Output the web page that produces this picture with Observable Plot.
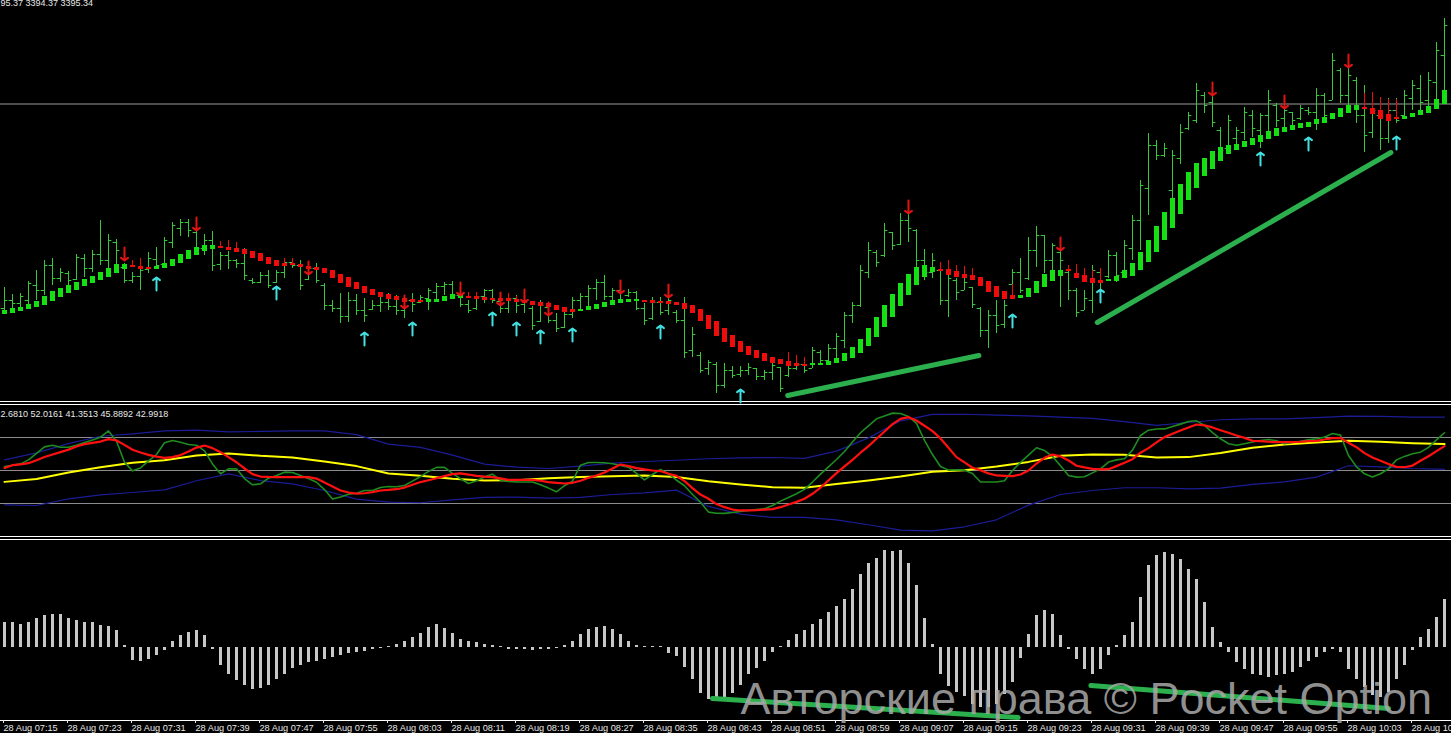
<!DOCTYPE html>
<html><head><meta charset="utf-8">
<script src="https://cdn.jsdelivr.net/npm/d3@7"></script>
<script src="https://cdn.jsdelivr.net/npm/@observablehq/plot@0.6"></script>
<style>
html,body{margin:0;padding:0;background:#000;overflow:hidden;}
#wrap{width:1451px;height:733px;background:#000;overflow:hidden;}
.sep{height:2px;border-top:1px solid #fff;border-bottom:1px solid #fff;background:#000;}
svg{display:block;}
</style></head>
<body><div id="wrap"></div>
<script>
// ---------- DATA (price in chart points) ----------
const barHigh = [113,106,107,119,130,140,142,132,129,146,146,150,180,166,161,137,128,142,148,153,163,178,181,181,170,166,169,148,149,141,152,122,128,130,130,142,142,140,138,137,117,100,107,108,106,102,100,105,107,105,103,107,105,112,117,118,119,108,100,107,111,111,100,105,105,103,94,100,93,87,90,103,107,115,121,125,112,113,111,109,97,103,103,103,90,103,73,48,40,38,37,34,34,37,32,30,38,33,35,38,43,53,50,56,67,88,98,135,158,150,177,168,187,187,171,151,147,130,130,122,123,113,93,90,100,100,131,142,163,174,165,157,149,130,112,110,135,128,150,148,160,185,220,267,260,257,250,276,288,317,308,306,273,285,273,293,290,287,310,297,292,288,295,293,312,307,347,332,333,323,315,308,303,302,302,310,320,325,328,358,382];
const barLow = [90,92,93,93,100,105,115,118,113,120,123,128,135,132,136,117,117,110,127,132,135,152,164,163,147,145,129,130,131,132,120,116,117,112,117,122,132,110,120,117,90,88,77,78,85,78,90,88,90,85,82,88,97,90,100,105,102,93,87,90,97,97,87,87,87,87,70,78,77,68,72,82,90,93,100,100,100,97,103,90,75,80,85,85,77,42,43,27,25,7,12,22,23,25,20,20,20,8,23,30,27,32,35,37,42,52,77,93,122,133,143,150,155,158,132,120,122,95,83,100,110,92,63,52,67,72,113,107,120,133,127,127,93,100,83,90,87,107,122,118,125,140,150,185,240,243,200,236,270,277,287,273,243,250,255,260,263,252,267,273,273,275,280,285,270,277,300,297,287,277,248,262,250,257,277,283,290,290,293,300,310];
const barOpen = [92,100,97,100,115,110,135,122,127,121,142,132,146,140,158,133,120,124,131,141,136,158,172,178,168,152,160,136,145,140,137,120,118,125,118,128,138,135,121,132,115,95,92,84,100,90,91,95,98,94,90,100,98,102,108,114,116,105,96,92,104,110,99,92,102,96,92,79,93,80,73,86,100,104,112,118,104,110,105,108,92,82,98,90,88,80,50,45,32,36,15,30,26,30,32,24,28,33,25,32,36,32,48,40,52,60,85,95,128,148,145,168,156,180,170,140,128,130,100,120,110,113,92,70,85,76,116,128,122,150,165,140,148,128,110,90,100,128,124,145,128,152,180,212,255,245,210,242,272,280,305,298,270,252,262,268,285,270,285,295,282,288,282,290,288,305,300,330,305,320,285,268,285,262,290,285,302,312,300,318,345];
const barClose = [100,97,104,117,110,135,122,128,120,143,132,146,140,160,150,120,124,130,142,135,160,175,178,170,152,160,135,145,140,137,125,118,125,115,128,138,135,115,132,120,95,92,84,100,90,85,95,98,94,90,100,96,103,110,114,116,105,96,90,104,110,100,92,102,95,100,75,95,80,72,86,100,104,112,118,104,110,100,108,92,80,98,88,100,80,48,66,30,38,15,30,25,30,33,24,28,35,12,32,36,30,50,40,52,64,85,95,130,150,138,170,155,180,172,140,128,140,100,122,108,118,96,70,85,75,95,128,110,150,165,140,155,140,110,88,102,130,110,145,125,155,180,215,255,245,252,245,268,285,310,295,278,250,280,270,288,272,285,300,280,290,280,292,288,305,285,340,305,325,285,265,290,262,290,280,305,315,298,320,350,375];
const haOpen = [86,87,89,91,93,95,99,103,107,110,114,117,120,123,127,131,135,134,133,131,132,134,137,141,145,149,151,154,153,152,151,149,147,143,140,137,137,136,134,133,132,130,126,123,118,114,111,108,106,104,102,101,100,98,98,99,101,102,104,104,103,102,102,102,101,100,99,98,97,95,93,91,89,90,91,93,95,97,98,99,100,100,99,99,98,97,95,91,85,79,72,65,59,54,50,47,43,41,39,37,36,35,35,35,37,39,42,47,54,63,73,83,94,105,115,123,128,131,131,129,126,125,123,119,114,109,105,102,103,107,113,119,124,131,127,125,122,120,119,119,122,124,130,138,148,160,172,186,200,212,224,231,239,246,250,253,255,258,261,264,268,270,272,273,276,277,281,283,287,290,293,292,290,286,283,281,283,285,287,291,296];
const haClose = [90,92,93,96,99,104,109,112,115,118,121,124,128,132,136,136,133,131,131,134,137,141,146,150,153,155,155,152,150,148,146,142,139,136,134,134,135,133,131,130,127,122,117,113,111,107,105,103,101,100,98,98,98,101,101,104,106,105,102,101,100,100,99,99,98,97,95,94,93,90,88,88,91,94,96,98,100,101,101,101,98,97,97,96,95,91,87,79,71,64,58,53,48,45,42,39,37,36,34,34,34,37,37,39,42,47,53,61,72,83,95,106,117,126,133,135,133,129,125,123,122,120,114,108,103,101,101,105,112,119,126,130,130,129,122,118,117,117,121,124,130,137,148,160,174,188,202,216,228,237,242,249,253,255,256,259,262,265,269,272,273,275,277,278,281,283,287,292,295,295,291,286,281,279,281,284,287,290,294,301,310];
const wickIdx = [16,17,27,28,29,35,36,58,59,62,63,64,98,99,100,117,118,119,120,121,126,133,134,135,136,137,170,171,172,173,174];
const wickTop = [140,142,159,160,158,142,142,108,108,107,107,104,48,45,43,138,140,135,134,132,116,135,136,132,130,132,307,308,303,301,301];
const sellIdx = [15,24,38,50,57,62,65,68,77,83,113,132,151,160,168];
const sellTip = [140,170,126,92,105,95,98,85,107,103,187,150,305,292,333];
const buyIdx = [19,34,45,51,61,64,67,71,82,92,126,137,157,163,174];
const buyTip = [123,114,68,78,88,78,70,72,75,11,86,111,248,263,264];
const priceLine = 296.5;
const trendPriceI1 = [97.9, 136.6], trendPriceV1 = [5, 78], trendPriceI2 = [121.8, 173.3], trendPriceV2 = [45, 248];
const priceHeader = "95.37 3394.37 3395.34";

const tdiPrice = [52.2,52.9,53.6,55.8,59.4,62.9,63.8,62.7,62.7,63.8,65.3,66.7,68.2,71.6,66.0,54.5,49.8,51.4,55.3,58.7,65.1,66.4,65.4,64.2,63.8,60.7,53.6,48.2,50.9,50.9,45.6,42.2,42.7,45.8,47.3,49.1,48.9,47.3,45.6,43.6,39.6,34.4,35.6,37.1,37.6,39.1,39.1,40.7,41.3,41.1,41.8,44.2,46.7,49.5,51.7,51.7,48.4,45.5,42.9,44.4,46.6,48.0,44.7,44.0,43.7,43.7,43.7,42.2,40.4,38.4,41.7,44.2,52.9,54.4,54.4,54.2,53.7,52.7,51.8,48.4,44.9,47.8,50.6,48.2,44.7,41.7,36.9,32.7,27.3,26.7,26.6,27.1,27.7,28.2,28.7,29.1,30.9,33.3,35.3,37.3,39.7,43.7,48.0,52.0,56.0,60.4,65.5,70.6,74.4,78.2,79.7,81.3,81.1,79.5,75.7,66.4,58.7,52.2,50.2,50.4,50.2,48.4,43.7,43.7,43.7,44.4,50.0,54.4,58.4,62.4,60.9,57.7,52.6,47.3,46.4,46.6,48.7,50.9,54.6,55.8,56.4,61.1,69.1,72.0,72.6,72.7,74.0,75.3,76.7,77.1,74.6,70.7,67.3,64.6,63.8,64.6,65.5,66.4,66.9,66.2,64.6,65.3,66.0,66.7,67.3,68.2,70.2,69.3,58.2,52.0,48.2,46.4,48.2,50.9,55.8,57.7,59.1,60.0,62.6,66.7,70.6];
const tdiSignal = [51.4,52.9,53.3,54.0,55.6,57.4,58.7,60.0,61.4,63.1,64.4,65.1,65.8,67.1,66.4,64.0,61.3,59.8,58.5,57.6,56.9,57.3,58.4,60.4,62.5,63.6,62.2,60.0,57.3,54.5,51.1,48.0,46.7,46.5,46.4,46.4,46.4,46.4,46.4,45.6,43.4,41.3,39.1,38.0,37.4,37.6,38.2,39.1,39.4,39.8,40.7,42.2,43.7,44.7,45.8,46.9,48.0,48.4,47.8,47.1,46.7,46.4,45.7,44.9,44.9,44.9,44.9,44.4,43.7,43.3,42.9,43.3,44.4,46.0,47.3,48.9,51.1,53.3,52.4,51.3,50.6,50.0,49.7,48.2,47.1,44.2,40.4,36.9,34.6,31.7,30.0,28.7,28.2,28.2,28.4,28.7,28.9,30.0,31.5,32.9,34.6,37.3,40.6,44.6,48.6,52.2,55.8,59.7,63.3,67.3,71.3,75.3,78.2,79.1,77.3,74.4,71.5,67.5,62.4,57.3,54.4,51.5,50.2,48.4,47.3,47.1,46.9,47.8,50.0,53.8,56.9,58.7,57.7,55.5,52.6,51.7,50.9,50.6,50.7,52.4,54.2,56.2,59.7,62.2,65.3,68.2,70.0,71.8,73.5,75.1,74.6,73.5,72.0,70.6,69.1,67.8,66.2,66.0,65.7,65.5,65.5,65.5,65.7,66.0,66.2,66.9,67.7,67.8,65.1,62.7,59.5,57.1,55.3,53.5,52.0,51.8,52.7,55.3,57.8,60.6,63.3];
// read every 4th bar
const marketBase = [43.8,45.4,48.9,51.8,54.2,55.6,58.2,59.3,58.0,57.1,54.9,52.4,48.4,47.1,45.5,44.6,44.7,45.8,46.4,46.9,47.3,46.4,44.2,42.4,40.9,40.6,42.7,44.6,46.7,49.3,50.2,52.2,54.7,58.0,58.7,58.6,57.1,57.3,59.5,62.4,64.2,65.3,66.2,65.7,64.9,64.4];
const bandUpper = [55.8,59.6,64.7,68.7,70.0,71.6,72.0,71.1,71.3,71.6,71.6,69.6,64.4,62.6,58.4,53.5,51.8,51.1,52.4,54.0,54.9,55.6,56.4,56.9,57.1,56.6,60.6,67.8,77.1,80.6,80.7,80.2,79.8,79.1,78.4,76.7,74.6,76.2,77.7,78.2,78.2,78.9,79.7,79.5,79.1,79.1];
const bandLower = [31.3,30.9,34.5,36.7,38.0,39.4,44.4,48.2,44.5,42.7,39.1,34.4,32.7,32.4,34.0,35.3,35.5,34.9,35.3,36.9,37.8,39.3,30.4,26.2,24.4,24.4,23.1,20.4,17.5,17.1,19.3,23.1,31.1,36.9,39.1,40.6,40.6,40.0,40.4,42.4,43.8,46.4,52.6,52.0,51.1,50.6];
const tdiLevels = [32, 50, 68];
const tdiHeader = "2.6810 52.0161 41.3513 45.8892 42.9918";

const histogram = [25,25,23,25,29,32,33,33,29,27,25,25,22,21,17,2,-13,-14,-12,-8,-3,6,12,15,17,12,-2,-18,-27,-33,-38,-42,-41,-38,-32,-27,-21,-18,-15,-14,-12,-10,-8,-6,-5,-4,-2,-1,1,3,6,10,14,20,23,19,14,8,6,5,3,2,1,-2,-2,-2,-3,-2,-2,-1,2,6,13,18,20,21,18,13,6,2,1,1,1,-6,-9,-20,-32,-46,-52,-53,-52,-46,-38,-27,-21,-14,-5,1,7,13,17,23,28,35,41,48,58,73,84,89,97,96,97,84,62,29,3,-27,-39,-45,-49,-57,-60,-60,-57,-47,-35,-11,13,32,37,33,12,-2,-12,-22,-27,-22,-8,2,12,25,50,82,92,95,93,88,78,68,45,20,5,-5,-15,-22,-27,-28,-30,-28,-27,-25,-20,-14,-10,-5,-2,-5,-22,-32,-40,-48,-50,-45,-32,-18,-3,10,18,30,48];
const trendHistI1 = [88.5, 135.8], trendHistV1 = [-51, -38], trendHistI2 = [126.7, 173], trendHistV2 = [-70, -61];

const tickIdx = [0,8,16,24,32,40,48,56,64,72,80,88,96,104,112,120,128,136,144,152,160,168,176];
const tickLabels = ["28 Aug 07:15","28 Aug 07:23","28 Aug 07:31","28 Aug 07:39","28 Aug 07:47","28 Aug 07:55","28 Aug 08:03","28 Aug 08:11","28 Aug 08:19","28 Aug 08:27","28 Aug 08:35","28 Aug 08:43","28 Aug 08:51","28 Aug 08:59","28 Aug 09:07","28 Aug 09:15","28 Aug 09:23","28 Aug 09:31","28 Aug 09:39","28 Aug 09:47","28 Aug 09:55","28 Aug 10:03","28 Aug 10:11"];
const watermark = "Авторские права © Pocket Option";

// ---------- BUILD ----------
const W = 1451, ML = 4, MR = 7;
const FONT = "Liberation Sans, Arial, sans-serif";
const BAR = "#38c838", LIME = "#14e014", RED = "#ee0c0c", TREND = "#2cb04d";
const xDom = [0, 180];
const baseStyle = {background: "#000", color: "#e8e8e8", fontFamily: FONT, fontSize: "9px", overflow: "visible"};

const bars = barHigh.map((h, i) => ({i, h, l: barLow[i], o: barOpen[i], c: barClose[i], ho: haOpen[i], hc: haClose[i]}));
const haUp = bars.filter(d => d.hc > d.ho);
const haDown = bars.filter(d => d.hc <= d.ho);
const wicks = wickIdx.map((i, k) => ({i, top: wickTop[k], base: haOpen[i]}));
const sells = sellIdx.map((i, k) => ({i, tip: sellTip[k]}));
const buys = buyIdx.map((i, k) => ({i, tip: buyTip[k]}));
const trendP = trendPriceI1.map((v, k) => ({x1: v, y1: trendPriceV1[k], x2: trendPriceI2[k], y2: trendPriceV2[k]}));
const ARROW = 13;
const arrowStyle = {strokeWidth: 2, headLength: 7, headAngle: 105};

const pane1 = Plot.plot({
  width: W, height: 401, marginTop: 0, marginBottom: 0, marginLeft: ML, marginRight: MR,
  x: {domain: xDom, axis: null}, y: {domain: [-1, 400], axis: null},
  style: baseStyle,
  marks: [
    Plot.ruleY([priceLine], {stroke: "#9c9c9c", insetLeft: -ML, insetRight: -MR}),
    Plot.ruleX(bars, {x: "i", y1: "l", y2: "h", stroke: BAR}),
    Plot.ruleY(bars, {y: "o", x1: d => d.i - 0.42, x2: "i", stroke: BAR}),
    Plot.ruleY(bars, {y: "c", x1: "i", x2: d => d.i + 0.42, stroke: BAR}),
    Plot.ruleX(wicks, {x: "i", y1: "base", y2: "top", stroke: RED}),
    Plot.ruleX(haUp, {x: "i", y1: "ho", y2: "hc", stroke: LIME, strokeWidth: 5}),
    Plot.ruleX(haDown, {x: "i", y1: "ho", y2: "hc", stroke: RED, strokeWidth: 5}),
    Plot.arrow(sells, {x: "i", y1: d => d.tip + ARROW, y2: "tip", stroke: "#e01414", ...arrowStyle}),
    Plot.arrow(buys, {x: "i", y1: d => d.tip - ARROW, y2: "tip", stroke: "#44e0e0", ...arrowStyle}),
    Plot.link(trendP, {x1: "x1", y1: "y1", x2: "x2", y2: "y2", stroke: TREND, strokeWidth: 5, strokeLinecap: "round"}),
    Plot.text([priceHeader], {frameAnchor: "top-left", dx: -ML, dy: 5, lineAnchor: "bottom", textAnchor: "start", fill: "#e8e8e8", fontSize: 9})
  ]
});

const tdi = tdiPrice.map((g, i) => ({i, g, r: tdiSignal[i]}));
const bandIdx = d3.range(0, 181, 4);
const bands = bandIdx.map((i, k) => ({i, up: bandUpper[k], lo: bandLower[k], base: marketBase[k]}));

const pane2 = Plot.plot({
  width: W, height: 131, marginTop: 0, marginBottom: 0, marginLeft: ML, marginRight: MR,
  x: {domain: xDom, axis: null}, y: {domain: [14.0, 85.46], axis: null},
  style: baseStyle,
  marks: [
    Plot.ruleY(tdiLevels, {stroke: "#8c8c8c", insetLeft: -ML, insetRight: -MR}),
    Plot.line(bands, {x: "i", y: "up", stroke: "#1c1c96", strokeWidth: 1.2}),
    Plot.line(bands, {x: "i", y: "lo", stroke: "#1c1c96", strokeWidth: 1.2}),
    Plot.line(bands, {x: "i", y: "base", stroke: "#ffff00", strokeWidth: 2}),
    Plot.line(tdi, {x: "i", y: "g", stroke: "#1f8c1f", strokeWidth: 1.6}),
    Plot.line(tdi, {x: "i", y: "r", stroke: "#ff1010", strokeWidth: 2.2}),
    Plot.text([tdiHeader], {frameAnchor: "top-left", dx: -ML, dy: 11.5, lineAnchor: "bottom", textAnchor: "start", fill: "#e8e8e8", fontSize: 9})
  ]
});

const hist = histogram.map((h, i) => ({i, h}));
const trendH = trendHistI1.map((v, k) => ({x1: v, y1: trendHistV1[k], x2: trendHistI2[k], y2: trendHistV2[k]}));
const histDom = [-73, 107];

const pane3 = Plot.plot({
  width: W, height: 193, marginTop: 0, marginBottom: 13, marginLeft: ML, marginRight: MR,
  x: {domain: xDom, axis: null}, y: {domain: histDom, axis: null},
  style: baseStyle,
  marks: [
    Plot.ruleX(hist, {x: "i", y1: 0, y2: "h", stroke: "#c8c8c8", strokeWidth: 3}),
    Plot.link(trendH, {x1: "x1", y1: "y1", x2: "x2", y2: "y2", stroke: TREND, strokeWidth: 5, strokeLinecap: "round"}),
    Plot.ruleY([histDom[0]], {stroke: "#ffffff", insetLeft: -ML, insetRight: -MR}),
    Plot.axisX(tickIdx, {anchor: "bottom", tickSize: 3, tickPadding: 1, textAnchor: "start", dx: -1,
      tickFormat: d => tickLabels[tickIdx.indexOf(d)], color: "#e8e8e8", fontSize: 9.2, label: null}),
    Plot.text([watermark], {frameAnchor: "top-left", dx: 740 - ML, dy: 173, lineAnchor: "bottom", textAnchor: "start",
      fill: "#aaaaaa", fillOpacity: 0.85, fontSize: 45, fontFamily: FONT})
  ]
});

const wrap = document.getElementById("wrap");
const sep = () => { const d = document.createElement("div"); d.className = "sep"; return d; };
wrap.append(pane1, sep(), pane2, sep(), pane3);
</script>
</body></html>
